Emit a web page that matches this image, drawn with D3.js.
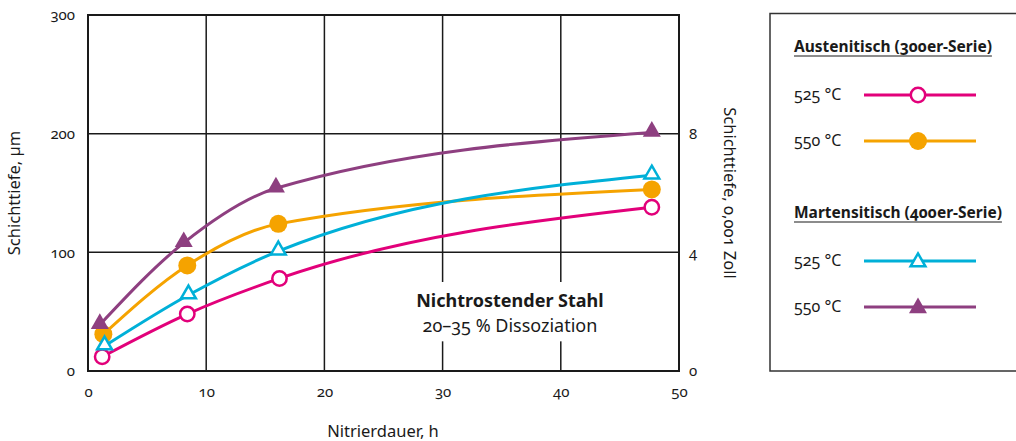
<!DOCTYPE html>
<html>
<head>
<meta charset="utf-8">
<script src="https://cdn.jsdelivr.net/npm/d3@7"></script>
<style>
  body { margin: 0; background: #fff; }
  svg text { font-family: "Noto Sans", "Open Sans", sans-serif; font-variant-numeric: oldstyle-nums; fill: #1a1a1a; }
</style>
</head>
<body>
<div id="chart"></div>
<script>
// data
const hoursLabel = "Nitrierdauer, h";
const xTicks = [0, 10, 20, 30, 40, 50];
const yTicks = [0, 100, 200, 300];
const yTicksRight = [0, 4, 8];

const austenit525_x = [1.2, 8.4, 16.2, 47.7];
const austenit525_y = [12, 48, 78, 138];
const austenit550_x = [1.3, 8.4, 16.1, 47.7];
const austenit550_y = [31, 89, 124, 153];
const marten525_x = [1.4, 8.5, 16.1, 47.7];
const marten525_y = [21, 64, 101, 165];
const marten550_x = [1.0, 8.1, 15.9, 47.7];
const marten550_y = [39, 108, 154, 201];

const series = [
  { name: "525 °C", group: "Austenitisch (300er-Serie)", color: "#e2007a", marker: "circle", filled: false, x: austenit525_x, y: austenit525_y },
  { name: "550 °C", group: "Austenitisch (300er-Serie)", color: "#f5a300", marker: "circle", filled: true, x: austenit550_x, y: austenit550_y },
  { name: "525 °C", group: "Martensitisch (400er-Serie)", color: "#00b0d8", marker: "triangle", filled: false, x: marten525_x, y: marten525_y },
  { name: "550 °C", group: "Martensitisch (400er-Serie)", color: "#8e3f80", marker: "triangle", filled: true, x: marten550_x, y: marten550_y }
];

const W = 1016, H = 441;
const margin = { top: 15, right: 337, bottom: 70, left: 88 };
const width = W - margin.left - margin.right;
const height = H - margin.top - margin.bottom;

const svg = d3.select("#chart").append("svg")
  .attr("width", W)
  .attr("height", H);

const g = svg.append("g")
  .attr("transform", "translate(" + margin.left + "," + margin.top + ")");

const xScale = d3.scaleLinear().domain([0, 50]).range([0, width]);
const yScale = d3.scaleLinear().domain([0, 300]).range([height, 0]);
const yRight = d3.scaleLinear().domain([0, 12]).range([height, 0]);

// grid
g.selectAll(".vgrid")
  .data(xTicks.slice(1, -1))
  .enter().append("line")
  .attr("x1", d => xScale(d)).attr("x2", d => xScale(d))
  .attr("y1", 0).attr("y2", height)
  .attr("stroke", "#1a1a1a").attr("stroke-width", 1.5);

g.selectAll(".hgrid")
  .data(yTicks.slice(1, -1))
  .enter().append("line")
  .attr("x1", 0).attr("x2", width)
  .attr("y1", d => yScale(d)).attr("y2", d => yScale(d))
  .attr("stroke", "#1a1a1a").attr("stroke-width", 1.5);

// white box behind the annotation
g.append("rect")
  .attr("x", xScale(26.5)).attr("y", yScale(75))
  .attr("width", xScale(44.5) - xScale(26.5))
  .attr("height", yScale(25) - yScale(75))
  .attr("fill", "#fff");

g.append("rect")
  .attr("width", width).attr("height", height)
  .attr("fill", "none").attr("stroke", "#1a1a1a").attr("stroke-width", 2);

// axes
const axisFont = "15px";
const xAxis = g.append("g")
  .attr("transform", "translate(0," + height + ")")
  .call(d3.axisBottom(xScale).tickValues(xTicks).tickSize(0).tickPadding(15));
const yAxis = g.append("g")
  .call(d3.axisLeft(yScale).tickValues(yTicks).tickSize(0).tickPadding(13));
const yAxisR = g.append("g")
  .attr("transform", "translate(" + width + ",0)")
  .call(d3.axisRight(yRight).tickValues(yTicksRight).tickSize(0).tickPadding(10));
[xAxis, yAxis, yAxisR].forEach(a => {
  a.select(".domain").remove();
  a.selectAll("text").style("font-size", axisFont).attr("fill", "#1a1a1a");
});

// axis titles
svg.append("text")
  .attr("transform", "translate(20," + (margin.top + yScale(150)) + ") rotate(-90)")
  .attr("text-anchor", "middle")
  .style("font-size", "16.5px")
  .text("Schichttiefe, µm");

svg.append("text")
  .attr("transform", "translate(724," + (margin.top + yScale(150)) + ") rotate(90)")
  .attr("text-anchor", "middle")
  .style("font-size", "16.5px")
  .text("Schichttiefe, 0,001 Zoll");

svg.append("text")
  .attr("x", 383).attr("y", 437)
  .attr("text-anchor", "middle")
  .style("font-size", "16.5px")
  .text(hoursLabel);

// annotation
g.append("text")
  .attr("x", xScale(35.7)).attr("y", yScale(54))
  .attr("text-anchor", "middle")
  .style("font-size", "18px").style("font-weight", "bold")
  .text("Nichtrostender Stahl");
g.append("text")
  .attr("x", xScale(35.7)).attr("y", yScale(33))
  .attr("text-anchor", "middle")
  .style("font-size", "18px")
  .text("20–35 % Dissoziation");

// lines
const line = d3.line()
  .x(d => xScale(d[0]))
  .y(d => yScale(d[1]))
  .curve(d3.curveMonotoneX);

const triSym = d3.symbol().type(d3.symbolTriangle);

function drawMarker(sel, s, cx, cy) {
  if (s.marker === "circle") {
    sel.append("circle")
      .attr("cx", cx).attr("cy", cy)
      .attr("r", s.filled ? 9 : 7.2)
      .attr("fill", s.filled ? s.color : "#fff")
      .attr("stroke", s.color)
      .attr("stroke-width", s.filled ? 0 : 2.5);
  } else {
    sel.append("path")
      .attr("d", triSym.size(s.filled ? 140 : 95)())
      .attr("transform", "translate(" + cx + "," + (cy - 1) + ")")
      .attr("fill", s.filled ? s.color : "#fff")
      .attr("stroke", s.color)
      .attr("stroke-width", s.filled ? 0 : 2.5)
      .attr("stroke-linejoin", "miter");
  }
}

series.forEach(s => {
  const pts = s.x.map((v, i) => [v, s.y[i]]);
  g.append("path")
    .datum(pts)
    .attr("d", line)
    .attr("fill", "none")
    .attr("stroke", s.color)
    .attr("stroke-width", 3);
  pts.forEach(p => drawMarker(g, s, xScale(p[0]), yScale(p[1])));
});

// legend
const lg = svg.append("g");
lg.append("rect")
  .attr("x", 770).attr("y", 13.5)
  .attr("width", 260).attr("height", 357.5)
  .attr("fill", "none").attr("stroke", "#333").attr("stroke-width", 1.5);

const groups = ["Austenitisch (300er-Serie)", "Martensitisch (400er-Serie)"];
const groupY = [52, 218];
groups.forEach((name, gi) => {
  const t = lg.append("text")
    .attr("x", 794).attr("y", groupY[gi])
    .style("font-size", "15.5px").style("font-weight", "bold")
    .text(name);
  const bb = t.node().getBBox();
  lg.append("line")
    .attr("x1", bb.x).attr("x2", bb.x + bb.width)
    .attr("y1", groupY[gi] + 4).attr("y2", groupY[gi] + 4)
    .attr("stroke", "#1a1a1a").attr("stroke-width", 1.2);
  const items = series.filter(s => s.group === name);
  items.forEach((s, i) => {
    const cy = groupY[gi] + 43 + i * 46;
    lg.append("text")
      .attr("x", 794).attr("y", cy + 5)
      .style("font-size", "16px")
      .text(s.name);
    lg.append("line")
      .attr("x1", 864).attr("x2", 976)
      .attr("y1", cy).attr("y2", cy)
      .attr("stroke", s.color).attr("stroke-width", 3);
    drawMarker(lg, s, 918, s.marker === "triangle" ? cy + 2 : cy);
  });
});
</script>
</body>
</html>
